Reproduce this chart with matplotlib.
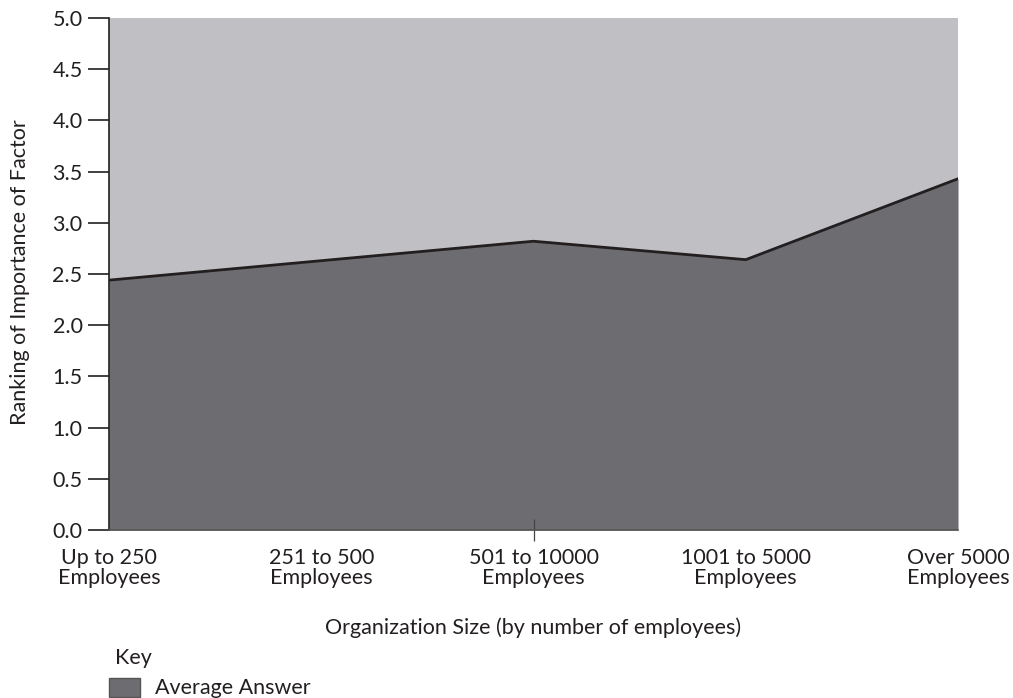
import numpy as np
import matplotlib.pyplot as plt
from matplotlib.patches import Rectangle

plt.rcParams['font.family'] = ['Lato', 'DejaVu Sans']

# Data
categories = ['Up to 250\nEmployees', '251 to 500\nEmployees', '501 to 10000\nEmployees',
              '1001 to 5000\nEmployees', 'Over 5000\nEmployees']
average_answer = [2.44, 2.63, 2.82, 2.64, 3.43]
y_ticks = [0.0, 0.5, 1.0, 1.5, 2.0, 2.5, 3.0, 3.5, 4.0, 4.5, 5.0]

W, H = 1013, 698
FS = 15.5
TXT = '#231f20'
fig = plt.figure(figsize=(W / 100, H / 100), dpi=100, facecolor='white')
ax = fig.add_axes([109 / W, (H - 530) / H, (958 - 109) / W, (530 - 18) / H])

x = np.arange(len(categories))
light = '#c0c0c4'
dark = '#6d6d71'

ax.fill_between(x, 0, 5, color=light, linewidth=0)
ax.fill_between(x, 0, average_answer, color=dark, linewidth=0)
ax.plot(x, average_answer, color=TXT, linewidth=2)

ax.set_xlim(x[0], x[-1])
ax.set_ylim(0, 5)

ax.set_yticks(y_ticks)
ax.set_yticklabels([f'{v:.1f}' for v in y_ticks], fontsize=FS, color=TXT)
ax.tick_params(axis='y', direction='out', length=15, width=1.2, color=TXT, pad=4)

# only one x tick (middle) is drawn in the original
ax.set_xticks([2])
ax.set_xticklabels([''])
ax.tick_params(axis='x', direction='inout', length=16, width=0.9, color='#444444')
for xi, lab in zip(x, categories):
    ax.text(xi, -0.18, lab, ha='center', va='top', fontsize=FS, color=TXT,
            linespacing=1.0)

for s in ['top', 'right']:
    ax.spines[s].set_visible(False)
ax.spines['left'].set_color(TXT)
ax.spines['left'].set_linewidth(1.2)
ax.spines['bottom'].set_color('#555555')
ax.spines['bottom'].set_linewidth(1.2)

fig.text(20 / W, 1 - 272 / H, 'Ranking of Importance of Factor', rotation=90,
         ha='center', va='center', fontsize=FS, color=TXT)
fig.text(533 / W, 1 - 628 / H, 'Organization Size (by number of employees)',
         ha='center', va='center', fontsize=FS, color=TXT)
fig.text(115 / W, 1 - 658 / H, 'Key', ha='left', va='center', fontsize=FS, color=TXT)

# legend key
fig.patches.append(Rectangle((109 / W, 1 - 697 / H), 31 / W, 19 / H, transform=fig.transFigure,
                             facecolor=dark, edgecolor='#555555', linewidth=1))
fig.text(155 / W, 1 - 688 / H, 'Average Answer', ha='left', va='center', fontsize=FS, color=TXT)

plt.savefig('out.png', dpi=100)
